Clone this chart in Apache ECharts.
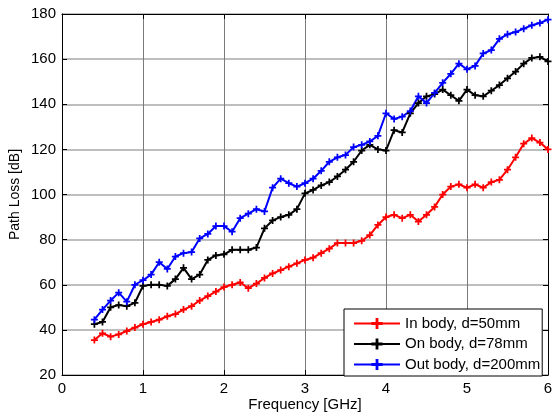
<!DOCTYPE html>
<html>
<head>
<meta charset="utf-8">
<script src="https://cdn.jsdelivr.net/npm/echarts@6/dist/echarts.min.js"></script>
<style>
html,body{margin:0;padding:0;background:#fff;}
#chart{width:553px;height:415px;}
</style>
</head>
<body>
<div id="chart"></div>
<script>
var freq = [0.4,0.5,0.6,0.7,0.8,0.9,1.0,1.1,1.2,1.3,1.4,1.5,1.6,1.7,1.8,1.9,2.0,2.1,2.2,2.3,2.4,2.5,2.6,2.7,2.8,2.9,3.0,3.1,3.2,3.3,3.4,3.5,3.6,3.7,3.8,3.9,4.0,4.1,4.2,4.3,4.4,4.5,4.6,4.7,4.8,4.9,5.0,5.1,5.2,5.3,5.4,5.5,5.6,5.7,5.8,5.9,6.0];
var inBody = [35.5,38.5,37,38,39.5,41,42.5,43.5,44.5,46,47,49,50.5,53,55,57,59,60,61,58.5,60.5,63,65,66.5,68,69.5,71,72,74,76,78.5,78.5,78.5,79.5,82,86.5,90,91,89.5,91,88,91,94.5,100,103.5,104.5,103,104.5,103,105.5,106.5,111,116.5,122.5,125,123,120];
var onBody = [42.5,43.5,50,51,50.5,52,59.5,60,60,59.5,62.5,67.5,62.5,64.5,71,73,73.5,75.5,75.5,75.5,76.5,85,88.5,90,91,93.5,100.5,102,104,105.5,108,111,114.5,119.5,122,120,119.5,128.5,127.5,136,140.5,143.5,144.5,146.5,144,141.5,146.5,144,143.5,146,148.5,151.5,154.5,158,160.5,161,159];
var outBody = [44.5,49,53,56.5,52.5,60,62,64.5,70,67,72.5,74,74.5,80.5,82.5,86,86,83.5,89.5,91.5,93.5,92.5,103,107,105,103.5,105,107,110.5,114.5,116.5,117.5,121,122,123.5,126,136,133.5,134.5,137,143.5,140.5,145,149.5,153.5,158,155.5,157,162.5,164,169,171,172,173.5,175,176,177.5];
var seriesNames = ['In body, d=50mm','On body, d=78mm','Out body, d=200mm'];
var xTicks = [0,1,2,3,4,5,6];
var yTicks = [20,40,60,80,100,120,140,160,180];

var FONT = 'Liberation Sans, Arial, sans-serif';
var FS = 15;
var plus = 'path://M3,0H5V3H8V5H5V8H3V5H0V3H3Z';
function pairs(ys){ return freq.map(function(f,i){ return [f, ys[i]]; }); }
function mk(name, ys, color){
  return {
    name: name, type: 'line', data: pairs(ys),
    symbol: plus, symbolSize: 7, showSymbol: true,
    lineStyle: {color: color, width: 2},
    itemStyle: {color: color},
    animation: false, z: 3
  };
}
var chart = echarts.init(document.getElementById('chart'), null, {renderer: 'canvas'});
var xMin = xTicks[0], xMax = xTicks[xTicks.length-1];
var yMin = yTicks[0], yMax = yTicks[yTicks.length-1];
var baseX = {
  type: 'value', min: xMin, max: xMax, interval: 1,
  axisLine: {show: true, onZero: false, lineStyle: {color: '#000', width: 1}},
  axisTick: {show: true, inside: true, length: 5, lineStyle: {color: '#000'}}
};
var baseY = {
  type: 'value', min: yMin, max: yMax, interval: 20,
  axisLine: {show: true, onZero: false, lineStyle: {color: '#000', width: 1}},
  axisTick: {show: true, inside: true, length: 5, lineStyle: {color: '#000'}}
};
chart.setOption({
  backgroundColor: '#fff',
  animation: false,
  grid: {left: 62, right: 5, top: 14, bottom: 40, containLabel: false, outerBoundsMode: 'none'},
  xAxis: [
    Object.assign({}, baseX, {
      position: 'bottom',
      name: 'Frequency [GHz]', nameLocation: 'middle', nameGap: 22, nameMoveOverlap: false,
      nameTextStyle: {color: '#000', fontSize: FS, fontFamily: FONT},
      axisLabel: {color: '#000', fontSize: FS, fontFamily: FONT, margin: 6},
      splitLine: {show: true, lineStyle: {color: '#7a7a7a', width: 1}}
    }),
    Object.assign({}, baseX, {
      position: 'top', axisLabel: {show: false}, splitLine: {show: false}
    })
  ],
  yAxis: [
    Object.assign({}, baseY, {
      position: 'left',
      name: 'Path Loss [dB]', nameLocation: 'middle', nameGap: 40, nameMoveOverlap: false,
      nameTextStyle: {color: '#000', fontSize: 14, fontFamily: FONT},
      axisLabel: {color: '#000', fontSize: FS, fontFamily: FONT, margin: 6},
      splitLine: {show: true, lineStyle: {color: '#a8a8a8', width: 1.5}}
    }),
    Object.assign({}, baseY, {
      position: 'right', axisLabel: {show: false}, splitLine: {show: false}
    })
  ],
  legend: {
    orient: 'vertical', left: 344, top: 309,
    padding: [7, 2, 4, 9], itemGap: 5.5, itemWidth: 46, itemHeight: 14,
    backgroundColor: '#fff', borderColor: '#000', borderWidth: 1, borderRadius: 0,
    textStyle: {color: '#000', fontSize: FS, fontFamily: FONT},
    data: seriesNames
  },
  series: [
    mk(seriesNames[0], inBody, '#ff0000'),
    mk(seriesNames[1], onBody, '#000000'),
    mk(seriesNames[2], outBody, '#0000ff')
  ]
});
</script>
</body>
</html>
